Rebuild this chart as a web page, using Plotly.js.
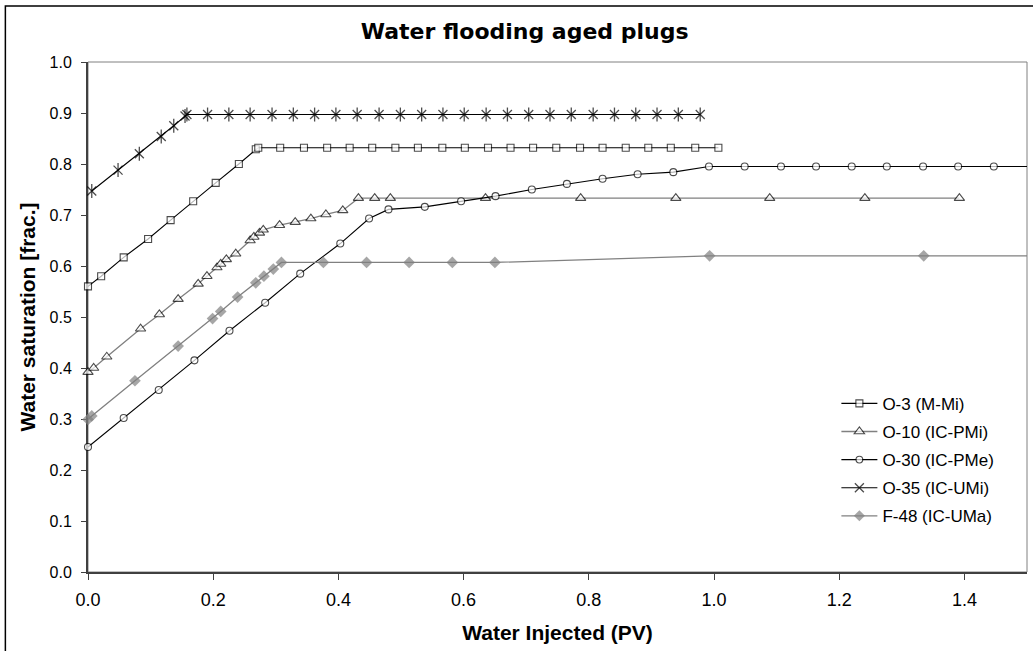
<!DOCTYPE html>
<html>
<head>
<meta charset="utf-8">
<script src="https://cdn.plot.ly/plotly-3.0.1.min.js"></script>
<style>
  html, body { margin: 0; padding: 0; background: #fff; }
  #chart { width: 1033px; height: 651px; }
</style>
</head>
<body>
<div id="chart"></div>
<script>
// Water saturation vs. injected pore volumes for aged plugs
const o3X  = [0, 0.021, 0.057, 0.096, 0.132, 0.168, 0.204, 0.241, 0.268, 0.272, 0.307, 0.345, 0.382, 0.418, 0.454, 0.491, 0.527, 0.566, 0.602, 0.639, 0.675, 0.711, 0.748, 0.786, 0.822, 0.859, 0.895, 0.931, 0.970, 1.007];
const o3Y  = [0.560, 0.580, 0.617, 0.653, 0.690, 0.727, 0.763, 0.800, 0.829, 0.832, 0.832, 0.832, 0.832, 0.832, 0.832, 0.832, 0.832, 0.832, 0.832, 0.832, 0.832, 0.832, 0.832, 0.832, 0.832, 0.832, 0.832, 0.832, 0.832, 0.832];

const o10X = [0, 0.009, 0.030, 0.084, 0.114, 0.144, 0.176, 0.190, 0.206, 0.212, 0.221, 0.236, 0.259, 0.265, 0.274, 0.280, 0.306, 0.331, 0.356, 0.380, 0.407, 0.432, 0.458, 0.483, 0.635, 0.787, 0.939, 1.089, 1.241, 1.392];
const o10Y = [0.392, 0.400, 0.422, 0.477, 0.505, 0.535, 0.565, 0.580, 0.597, 0.604, 0.613, 0.624, 0.650, 0.657, 0.665, 0.671, 0.680, 0.686, 0.693, 0.701, 0.709, 0.733, 0.733, 0.733, 0.733, 0.733, 0.733, 0.733, 0.733, 0.733];

const o30X = [0, 0.057, 0.113, 0.170, 0.226, 0.283, 0.339, 0.403, 0.449, 0.480, 0.538, 0.596, 0.651, 0.709, 0.765, 0.822, 0.878, 0.935, 0.992, 1.049, 1.107, 1.163, 1.220, 1.276, 1.334, 1.390, 1.447, 1.505];
const o30Y = [0.245, 0.302, 0.357, 0.415, 0.473, 0.528, 0.585, 0.644, 0.693, 0.711, 0.716, 0.727, 0.737, 0.750, 0.761, 0.771, 0.780, 0.784, 0.795, 0.795, 0.795, 0.795, 0.795, 0.795, 0.795, 0.795, 0.795, 0.795];

const o35X = [0.006, 0.048, 0.082, 0.117, 0.137, 0.155, 0.158, 0.191, 0.225, 0.259, 0.294, 0.328, 0.362, 0.396, 0.430, 0.465, 0.499, 0.533, 0.567, 0.601, 0.636, 0.670, 0.704, 0.738, 0.772, 0.807, 0.841, 0.875, 0.909, 0.943, 0.978];
const o35Y = [0.747, 0.788, 0.820, 0.854, 0.875, 0.894, 0.897, 0.897, 0.897, 0.897, 0.897, 0.897, 0.897, 0.897, 0.897, 0.897, 0.897, 0.897, 0.897, 0.897, 0.897, 0.897, 0.897, 0.897, 0.897, 0.897, 0.897, 0.897, 0.897, 0.897, 0.897];

const f48X = [0, 0.006, 0.075, 0.144, 0.199, 0.212, 0.239, 0.268, 0.281, 0.296, 0.309, 0.376, 0.445, 0.513, 0.582, 0.650, 0.993, 1.335, 1.680];
const f48Y = [0.299, 0.306, 0.375, 0.443, 0.497, 0.511, 0.539, 0.567, 0.580, 0.594, 0.607, 0.607, 0.607, 0.607, 0.607, 0.607, 0.620, 0.620, 0.620];

const seriesNames = ['O-3 (M-Mi)', 'O-10 (IC-PMi)', 'O-30 (IC-PMe)', 'O-35 (IC-UMi)', 'F-48 (IC-UMa)'];
const xTickVals = [0, 0.2, 0.4, 0.6, 0.8, 1.0, 1.2, 1.4];
const yTickVals = [0, 0.1, 0.2, 0.3, 0.4, 0.5, 0.6, 0.7, 0.8, 0.9, 1.0];
const X_MAX = 1.5;

const BLACK = '#000000';
const GREY = '#808080';
const FONT = 'Arial, "Liberation Sans", sans-serif';

// markers beyond the axis end are not drawn; the line still runs to the frame
const sizesFor = (xs, s) => xs.map(v => (v > X_MAX ? 0 : s));

const traces = [
  {
    x: o3X, y: o3Y, name: seriesNames[0], legendgroup: 'g1', type: 'scatter', mode: 'lines+markers',
    line: { color: BLACK, width: 1.1 },
    marker: { symbol: 'square', size: sizesFor(o3X, 7), color: '#ffffff', line: { color: BLACK, width: 1.1 } },
    cliponaxis: false
  },
  {
    x: o10X, y: o10Y, name: seriesNames[1], legendgroup: 'g2', type: 'scatter', mode: 'lines+markers',
    line: { color: GREY, width: 1.3 },
    marker: { symbol: 'triangle-up', size: sizesFor(o10X, 9), color: '#ffffff', line: { color: BLACK, width: 1.1 } },
    cliponaxis: false
  },
  {
    x: o30X, y: o30Y, name: seriesNames[2], legendgroup: 'g3', type: 'scatter', mode: 'lines+markers',
    line: { color: BLACK, width: 1.1 },
    marker: { symbol: 'circle', size: sizesFor(o30X, 7), color: '#ffffff', line: { color: BLACK, width: 1.1 } },
    cliponaxis: false
  },
  {
    x: o35X, y: o35Y, name: seriesNames[3], legendgroup: 'g4', type: 'scatter', mode: 'lines+markers',
    line: { color: BLACK, width: 1.1 },
    marker: { symbol: 'x-thin-open', size: sizesFor(o35X, 9), color: BLACK, line: { color: BLACK, width: 1.3 } },
    cliponaxis: false
  },
  {
    // vertical stroke completing the star marker
    x: o35X, y: o35Y, name: seriesNames[3], legendgroup: 'g4', showlegend: false, type: 'scatter', mode: 'markers',
    marker: { symbol: 'line-ns-open', size: sizesFor(o35X, 10), color: BLACK, line: { color: BLACK, width: 1.3 } },
    cliponaxis: false, hoverinfo: 'skip'
  },
  {
    x: f48X, y: f48Y, name: seriesNames[4], legendgroup: 'g5', type: 'scatter', mode: 'lines+markers',
    line: { color: GREY, width: 1.3 },
    marker: { symbol: 'diamond', size: sizesFor(f48X, 9), color: GREY, line: { color: GREY, width: 0 } },
    cliponaxis: false
  }
];

const layout = {
  width: 1033,
  height: 651,
  margin: { l: 88, r: 6, t: 62, b: 79, pad: 0 },
  paper_bgcolor: '#ffffff',
  plot_bgcolor: '#ffffff',
  font: { family: FONT, size: 16, color: BLACK },
  title: {
    text: '<b>Water flooding aged plugs</b>',
    font: { family: '"Comic Sans MS", "DejaVu Sans", sans-serif', size: 22, color: BLACK },
    x: 0.465, xanchor: 'center', xref: 'paper',
    y: 33, yref: 'container', yanchor: 'middle'
  },
  showlegend: true,
  legend: {
    x: 0.797, xanchor: 'left',
    y: 0.365, yanchor: 'top',
    bgcolor: 'rgba(0,0,0,0)',
    borderwidth: 0,
    font: { family: FONT, size: 17, color: BLACK },
    traceorder: 'grouped',
    tracegroupgap: 3,
    itemwidth: 36
  },
  xaxis: {
    range: [0, X_MAX],
    tickvals: xTickVals,
    tickformat: '.1f',
    ticks: 'outside', ticklen: 6, tickwidth: 1, tickcolor: '#404040',
    showline: true, linecolor: '#404040', linewidth: 2,
    showgrid: false, zeroline: false,
    tickfont: { family: FONT, size: 18, color: BLACK },
    ticklabelstandoff: 4,
    title: { text: '<b>Water Injected (PV)</b>', font: { family: FONT, size: 21, color: BLACK }, standoff: 17 },
    automargin: false,
    layer: 'below traces'
  },
  yaxis: {
    range: [0, 1],
    tickvals: yTickVals,
    tickformat: '.1f',
    ticks: 'outside', ticklen: 5, tickwidth: 1, tickcolor: '#404040',
    showline: true, linecolor: '#404040', linewidth: 2,
    showgrid: false, zeroline: false,
    tickfont: { family: FONT, size: 16, color: BLACK },
    ticklabelstandoff: 6,
    title: { text: '<b>Water saturation [frac.]</b>', font: { family: FONT, size: 21, color: BLACK }, standoff: 8 },
    automargin: false,
    layer: 'below traces'
  },
  shapes: [
    // plot area frame
    { type: 'rect', xref: 'paper', yref: 'paper', x0: 0, x1: 1, y0: 0, y1: 1,
      line: { color: GREY, width: 1 }, fillcolor: 'rgba(0,0,0,0)', layer: 'below' },
    // chart area border
    { type: 'rect', xref: 'paper', yref: 'paper', x0: -0.088, x1: 1.2, y0: -0.4, y1: 1.11,
      line: { color: BLACK, width: 1.5 }, fillcolor: 'rgba(0,0,0,0)', layer: 'below' }
  ]
};

Plotly.newPlot('chart', traces, layout, { displayModeBar: false, staticPlot: true });
</script>
</body>
</html>
